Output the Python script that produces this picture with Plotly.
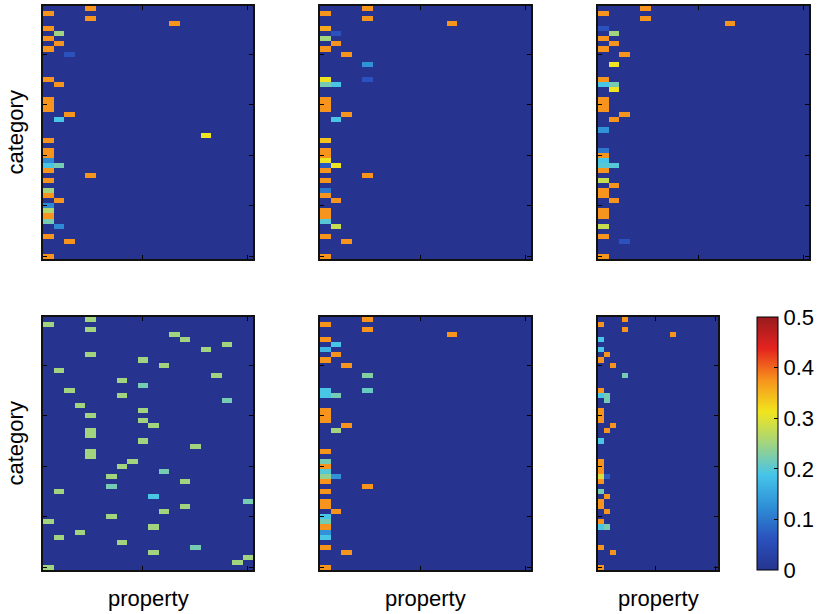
import plotly.graph_objects as go

# Sparse similarity matrices: 50 categories x 20 properties per panel.
# Each entry is (category_row, property_col, value); all other cells are 0.
N_CATEGORIES = 50
N_PROPERTIES = 20

panel_a = [(0, 4, .375), (1, 0, .375), (2, 4, .375), (3, 12, .375), (4, 0, .375), (5, 1, .25),
           (6, 0, .375), (7, 1, .375), (8, 0, .375), (9, 2, .06), (14, 0, .375), (15, 1, .375),
           (18, 0, .375), (19, 0, .375), (20, 0, .375), (21, 2, .375), (22, 1, .19), (25, 15, .31),
           (26, 0, .375), (28, 0, .375), (29, 0, .375), (30, 0, .12), (31, 0, .19), (31, 1, .22),
           (32, 0, .375), (33, 4, .375), (34, 0, .375), (36, 0, .25), (37, 0, .375), (38, 1, .375),
           (39, 0, .12), (40, 0, .26), (41, 0, .375), (42, 0, .22), (43, 1, .12), (45, 0, .375),
           (46, 2, .375), (49, 0, .375)]

panel_b = [(0, 4, .375), (1, 0, .375), (2, 4, .375), (3, 12, .375), (4, 0, .36), (5, 1, .06),
           (6, 0, .25), (7, 1, .375), (8, 0, .375), (9, 2, .375), (11, 4, .13), (14, 0, .31),
           (14, 4, .06), (15, 0, .22), (15, 1, .19), (18, 0, .375), (19, 0, .375), (20, 0, .375),
           (21, 2, .375), (22, 1, .19), (26, 0, .34), (28, 0, .375), (29, 0, .375), (30, 0, .31),
           (31, 0, .07), (31, 1, .31), (32, 0, .375), (33, 4, .375), (34, 0, .375), (36, 0, .1),
           (37, 0, .375), (38, 1, .375), (40, 0, .375), (41, 0, .375), (42, 0, .2), (43, 1, .28),
           (45, 0, .375), (46, 2, .375), (49, 0, .375)]

panel_c = [(0, 4, .375), (1, 0, .375), (2, 4, .375), (3, 12, .375), (4, 0, .06), (5, 1, .25),
           (6, 0, .375), (7, 1, .375), (8, 0, .375), (9, 2, .375), (11, 1, .31), (14, 0, .375),
           (15, 0, .19), (15, 1, .22), (16, 1, .31), (18, 0, .375), (19, 0, .375), (20, 0, .375),
           (21, 2, .375), (22, 1, .375), (24, 0, .13), (28, 0, .1), (29, 0, .375), (30, 0, .19),
           (31, 0, .2), (31, 1, .2), (32, 0, .375), (34, 0, .28), (35, 1, .375), (36, 0, .375),
           (37, 0, .375), (38, 1, .375), (40, 0, .375), (41, 0, .375), (43, 0, .28), (45, 0, .375),
           (46, 2, .06), (49, 0, .375)]

panel_d = [(0, 4, .25), (1, 0, .25), (2, 4, .25), (3, 12, .25), (4, 13, .25), (5, 17, .25),
           (6, 15, .25), (7, 4, .25), (8, 9, .25), (9, 11, .25), (10, 1, .25), (11, 16, .25),
           (12, 7, .25), (13, 9, .22), (14, 2, .25), (15, 7, .25), (16, 17, .22), (17, 3, .25),
           (18, 9, .25), (19, 4, .25), (20, 9, .25), (21, 10, .25), (22, 4, .25), (23, 4, .25),
           (24, 9, .25), (25, 14, .25), (26, 4, .25), (27, 4, .25), (28, 8, .25), (29, 7, .25),
           (30, 11, .22), (31, 6, .25), (32, 13, .25), (33, 6, .22), (34, 1, .25), (35, 10, .19),
           (36, 19, .22), (37, 13, .25), (38, 11, .25), (39, 6, .25), (40, 0, .25), (41, 10, .25),
           (42, 3, .25), (43, 1, .25), (44, 7, .25), (45, 14, .22), (46, 10, .25), (47, 19, .25),
           (48, 18, .25), (49, 0, .25)]

panel_e = [(0, 4, .375), (1, 0, .375), (2, 4, .375), (3, 12, .375), (4, 0, .375), (5, 1, .19),
           (6, 0, .17), (7, 1, .375), (8, 0, .375), (9, 2, .375), (11, 4, .23), (14, 4, .21),
           (14, 0, .19), (15, 0, .19), (15, 1, .22), (18, 0, .375), (19, 0, .375), (20, 0, .375),
           (21, 2, .375), (22, 1, .25), (26, 0, .375), (28, 0, .22), (29, 0, .375), (30, 0, .2),
           (31, 0, .24), (31, 1, .13), (32, 0, .375), (33, 4, .375), (34, 0, .375), (36, 0, .375),
           (37, 0, .375), (38, 1, .375), (39, 0, .19), (40, 0, .22), (41, 0, .375), (42, 0, .13),
           (43, 0, .19), (45, 0, .375), (46, 2, .375), (49, 0, .375)]

panel_f = [(0, 4, .375), (1, 0, .375), (2, 4, .375), (3, 12, .375), (4, 0, .19), (6, 0, .19),
           (7, 1, .375), (8, 0, .375), (9, 2, .375), (11, 4, .22), (14, 0, .375), (15, 0, .19),
           (15, 1, .22), (16, 1, .22), (18, 0, .375), (19, 0, .375), (20, 0, .375), (21, 2, .375),
           (22, 1, .375), (24, 0, .19), (28, 0, .375), (29, 0, .375), (30, 0, .375), (31, 0, .29),
           (31, 1, .07), (32, 0, .375), (34, 0, .22), (35, 1, .375), (36, 0, .375), (37, 0, .375),
           (38, 1, .375), (40, 0, .375), (41, 0, .19), (41, 1, .22), (45, 0, .375), (46, 2, .375),
           (49, 0, .375)]

panels = [panel_a, panel_b, panel_c, panel_d, panel_e, panel_f]

colorbar_ticks = [0, 0.1, 0.2, 0.3, 0.4, 0.5]
colorbar_labels = ["0", "0.1", "0.2", "0.3", "0.4", "0.5"]

# jet-like colour map
jet = [
    [0.000, "#263490"],
    [0.125, "#2a52be"],
    [0.250, "#2e8fd6"],
    [0.375, "#45c4ea"],
    [0.500, "#a2d47f"],
    [0.625, "#f1e51d"],
    [0.750, "#f7941d"],
    [0.875, "#e5231f"],
    [1.000, "#981b1e"],
]

W, H = 819, 614
FONT = "Liberation Sans, Arial, Helvetica, sans-serif"

# panel frames in pixels: (left, right, top, bottom)
frames = [
    (43, 253, 6, 259),
    (320, 531, 6, 259),
    (598, 809, 6, 259),
    (43, 253, 317, 570),
    (320, 531, 317, 570),
    (598, 718, 317, 570),
]


def to_matrix(entries):
    z = [[0.0] * N_PROPERTIES for _ in range(N_CATEGORIES)]
    for r, c, v in entries:
        z[r][c] = v
    return z


fig = go.Figure()
layout_axes = {}
for i, (entries, (l, r, t, b)) in enumerate(zip(panels, frames), start=1):
    xa = "x" if i == 1 else f"x{i}"
    ya = "y" if i == 1 else f"y{i}"
    fig.add_trace(go.Heatmap(
        z=to_matrix(entries),
        x=list(range(1, N_PROPERTIES + 1)),
        y=list(range(1, N_CATEGORIES + 1)),
        coloraxis="coloraxis",
        xaxis=xa, yaxis=ya,
        hoverinfo="skip",
    ))
    common = dict(showline=True, linecolor="#111111", linewidth=1.5, mirror="ticks",
                  ticks="inside", ticklen=4, tickcolor="black", tickwidth=1,
                  showticklabels=False, showgrid=False, zeroline=False)
    layout_axes["xaxis" if i == 1 else f"xaxis{i}"] = dict(
        domain=[l / W, r / W], anchor=ya, range=[0.5, N_PROPERTIES + 0.5],
        tickvals=[10, 20], **common)
    layout_axes["yaxis" if i == 1 else f"yaxis{i}"] = dict(
        domain=[1 - b / H, 1 - t / H], anchor=xa, range=[N_CATEGORIES + 0.5, 0.5],
        tickvals=[10, 20, 30, 40, 50], **common)

fig.update_layout(**layout_axes)

annotations = []
for yc in [(6 + 259) / 2, (317 + 570) / 2]:
    annotations.append(dict(text="category", x=15 / W, y=1 - yc / H, xref="paper", yref="paper",
                            textangle=-90, showarrow=False, xanchor="center", yanchor="middle",
                            font=dict(size=22, family=FONT, color="black")))
for xc in [(43 + 253) / 2, (320 + 531) / 2, (598 + 718) / 2]:
    annotations.append(dict(text="property", x=xc / W, y=1 - 598 / H, xref="paper", yref="paper",
                            showarrow=False, xanchor="center", yanchor="middle",
                            font=dict(size=22, family=FONT, color="black")))

fig.update_layout(
    width=W, height=H,
    margin=dict(l=0, r=0, t=0, b=0),
    paper_bgcolor="white", plot_bgcolor="white",
    font=dict(family=FONT, size=22, color="black"),
    annotations=annotations,
    coloraxis=dict(
        colorscale=jet, cmin=0, cmax=0.5,
        colorbar=dict(
            x=757 / W, xanchor="left", y=1 - (317 + 570) / 2 / H, yanchor="middle",
            len=(570 - 317) / H, lenmode="fraction",
            thickness=21, thicknessmode="pixels",
            outlinewidth=1, outlinecolor="black",
            xpad=0, ypad=0,
            tickvals=colorbar_ticks, ticktext=colorbar_labels,
            ticks="inside", ticklen=4, tickcolor="black",
            tickfont=dict(size=22, family=FONT, color="black"),
        ),
    ),
)

fig.write_html("out.html")
